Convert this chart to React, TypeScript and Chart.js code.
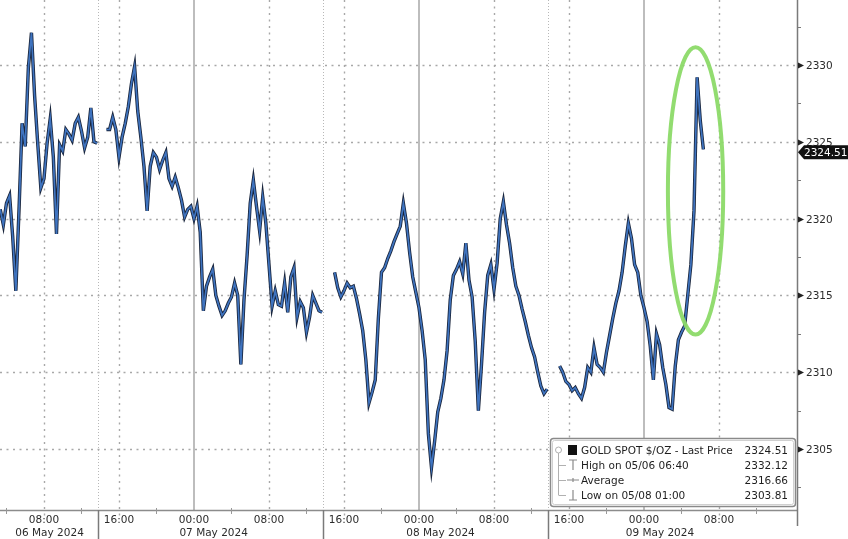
import React, { useEffect, useRef } from "react";
import { Chart, registerables } from "chart.js";
Chart.register(...registerables);

// ---- data (time in hours since 06 May 2024 00:00, prices in $/oz) ----
const INTERVAL_HOURS = 20 / 60;
const SESSION_START_HOURS = [3 + 20 / 60, 14 + 40 / 60, 39, 63];

const sessionA = [
  2320.6, 2319.6, 2321.0, 2321.5, 2318.8, 2315.3, 2320.5, 2326.2, 2324.7, 2329.8,
  2332.1, 2328.0, 2324.9, 2322.0, 2322.6, 2324.9, 2326.5, 2324.0, 2319.0, 2324.8,
  2324.4, 2325.8, 2325.5, 2325.1, 2326.2, 2326.6, 2325.7, 2324.6, 2325.3, 2327.2,
  2325.0, 2324.9,
];
const sessionB = [
  2325.8, 2325.8, 2326.6, 2325.8, 2324.0, 2325.3, 2326.2, 2327.3, 2328.8, 2329.9,
  2327.0, 2325.3, 2323.4, 2320.5, 2323.4, 2324.3, 2324.0, 2323.2, 2323.8, 2324.3,
  2322.6, 2322.1, 2322.7, 2322.0, 2321.2, 2320.1, 2320.6, 2320.8, 2320.0, 2320.8,
  2319.1, 2314.0, 2315.6, 2316.2, 2316.7, 2315.0, 2314.3, 2313.7, 2314.0, 2314.5,
  2314.9, 2315.8, 2315.0, 2310.5, 2314.7, 2317.6, 2321.0, 2322.5, 2320.8, 2319.2,
  2321.4, 2319.7, 2317.0, 2314.3, 2315.3, 2314.4, 2314.3, 2315.8, 2313.9, 2316.2,
  2316.8, 2313.6, 2314.6, 2314.2, 2312.6, 2313.6, 2315.0, 2314.5, 2314.0, 2313.9,
];
const sessionC = [
  2316.5, 2315.5, 2314.9, 2315.3, 2315.8, 2315.5, 2315.6, 2314.8, 2313.8, 2312.7,
  2310.8, 2308.0, 2308.7, 2309.5, 2313.5, 2316.5, 2316.8, 2317.4, 2317.9, 2318.5,
  2319.0, 2319.5, 2321.0, 2319.7, 2317.8, 2316.2, 2315.2, 2314.2, 2312.7, 2310.8,
  2306.0, 2303.8, 2305.5, 2307.4, 2308.3, 2309.5, 2311.4, 2314.7, 2316.3, 2316.7,
  2317.2, 2316.4, 2318.4, 2316.0, 2314.9, 2312.0, 2307.5, 2310.5, 2313.9, 2316.3,
  2317.0, 2315.4, 2317.1, 2320.0, 2321.1, 2319.6, 2318.4, 2316.8, 2315.6, 2315.0,
  2314.1, 2313.3, 2312.4, 2311.6, 2311.0, 2310.0, 2309.1, 2308.6, 2308.9,
];
const sessionD = [
  2310.4, 2310.0, 2309.4, 2309.2, 2308.8, 2309.0, 2308.6, 2308.3, 2309.0, 2310.3,
  2310.0, 2311.6, 2310.5, 2310.3, 2310.0, 2311.3, 2312.4, 2313.5, 2314.5, 2315.3,
  2316.5, 2318.2, 2319.7, 2318.7, 2317.0, 2316.5, 2315.0, 2314.2, 2313.3, 2311.7,
  2309.5, 2312.5, 2311.8, 2310.3, 2309.2, 2307.7, 2307.6, 2310.4, 2312.1, 2312.6,
  2313.0, 2315.0, 2317.0, 2320.5, 2329.2, 2326.4, 2324.51,
];
const SESSIONS = [sessionA, sessionB, sessionC, sessionD];

const X_MIN = 3.31;
const X_MAX = 88.32;
const Y_MIN = 2301.03;
const Y_MAX = 2334.23;

const Y_TICKS = [2305, 2310, 2315, 2320, 2325, 2330];
const Y_MINOR_TICKS = [2302.5, 2307.5, 2312.5, 2317.5, 2322.5, 2327.5, 2332.5];

const TIME_TICK_HOURS = [8, 16, 24, 32, 40, 48, 56, 64, 72, 80];
const TIME_TICK_LABELS = ["08:00", "16:00", "00:00", "08:00", "16:00", "00:00", "08:00", "16:00", "00:00", "08:00"];
const DAY_START_HOURS = [24, 48, 72];
const MINOR_TIME_HOURS = [4, 12, 20, 28, 36, 44, 52, 60, 68, 76, 84];
const SESSION_BREAK_HOURS = [13.75, 37.75, 61.75];
const DATE_LABELS = ["06 May 2024", "07 May 2024", "08 May 2024", "09 May 2024"];
const DATE_LABEL_HOURS = [8.6, 26.1, 50.3, 73.7];

const LAST_PRICE = 2324.51;
const LEGEND_LABELS = ["GOLD SPOT $/OZ - Last Price", "High on 05/06 06:40", "Average", "Low on 05/08 01:00"];
const LEGEND_VALUES = ["2324.51", "2332.12", "2316.66", "2303.81"];

const HIGHLIGHT_HOUR = 77.5;
const HIGHLIGHT_PRICE = 2321.8;
const HIGHLIGHT_HALF_HOURS = 2.95;
const HIGHLIGHT_HALF_PRICE = 9.35;

const FONT = '10.5px "DejaVu Sans", sans-serif';
const TEXT = "#2b2b2b";

function buildPoints() {
  const pts: { x: number; y: number | null }[] = [];
  SESSIONS.forEach((vals, s) => {
    if (s > 0) pts.push({ x: SESSION_START_HOURS[s] - 0.15, y: null });
    vals.forEach((v, i) => pts.push({ x: SESSION_START_HOURS[s] + i * INTERVAL_HOURS, y: v }));
  });
  return pts;
}

const decorPlugin = {
  id: "decor",
  beforeDatasetsDraw(chart: any) {
    const { ctx, chartArea: a, scales } = chart;
    const xs = scales.x, ys = scales.y;
    ctx.save();
    ctx.strokeStyle = "#a8a8a8";
    ctx.lineWidth = 1.4;
    ctx.setLineDash([2, 4.5]);
    Y_TICKS.forEach((v) => {
      const y = Math.round(ys.getPixelForValue(v)) + 0.5;
      ctx.beginPath(); ctx.moveTo(a.left, y); ctx.lineTo(a.right, y); ctx.stroke();
    });
    TIME_TICK_HOURS.forEach((h) => {
      if (DAY_START_HOURS.includes(h)) return;
      const x = Math.round(xs.getPixelForValue(h)) + 0.5;
      ctx.beginPath(); ctx.moveTo(x, a.top); ctx.lineTo(x, a.bottom + 6); ctx.stroke();
    });
    ctx.strokeStyle = "#b8b8b8";
    ctx.lineWidth = 1;
    ctx.setLineDash([1, 2]);
    SESSION_BREAK_HOURS.forEach((h) => {
      const x = Math.round(xs.getPixelForValue(h)) + 0.5;
      ctx.beginPath(); ctx.moveTo(x, a.top); ctx.lineTo(x, a.bottom); ctx.stroke();
    });
    ctx.setLineDash([]);
    ctx.strokeStyle = "#bdbdbd";
    ctx.lineWidth = 2;
    DAY_START_HOURS.forEach((h) => {
      const x = Math.round(xs.getPixelForValue(h));
      ctx.beginPath(); ctx.moveTo(x, a.top); ctx.lineTo(x, a.bottom); ctx.stroke();
    });
    ctx.restore();
  },
  afterDatasetsDraw(chart: any) {
    const { ctx, scales } = chart;
    const xs = scales.x, ys = scales.y;
    ctx.save();
    const cx = xs.getPixelForValue(HIGHLIGHT_HOUR);
    const cy = ys.getPixelForValue(HIGHLIGHT_PRICE);
    const rx = Math.abs(xs.getPixelForValue(HIGHLIGHT_HOUR + HIGHLIGHT_HALF_HOURS) - cx);
    const ry = Math.abs(ys.getPixelForValue(HIGHLIGHT_PRICE + HIGHLIGHT_HALF_PRICE) - cy);
    ctx.strokeStyle = "rgba(140, 218, 104, 0.95)";
    ctx.lineWidth = 4;
    ctx.beginPath();
    ctx.ellipse(cx, cy, rx, ry, 0, 0, Math.PI * 2);
    ctx.stroke();
    ctx.restore();
  },
  afterDraw(chart: any) {
    const { ctx, chartArea: a, scales, width, height } = chart;
    const xs = scales.x, ys = scales.y;
    ctx.save();
    ctx.strokeStyle = "#8c8c8c";
    ctx.lineWidth = 1.5;
    ctx.beginPath(); ctx.moveTo(0, a.bottom + 0.5); ctx.lineTo(a.right, a.bottom + 0.5); ctx.stroke();
    ctx.lineWidth = 1;
    ctx.strokeStyle = "#999";
    MINOR_TIME_HOURS.forEach((h) => {
      const x = Math.round(xs.getPixelForValue(h)) + 0.5;
      if (x > a.right - 2) return;
      ctx.beginPath(); ctx.moveTo(x, a.bottom - 2); ctx.lineTo(x, a.bottom + 4); ctx.stroke();
    });
    ctx.strokeStyle = "#7a7a7a";
    ctx.lineWidth = 1.5;
    SESSION_BREAK_HOURS.forEach((h) => {
      const x = Math.round(xs.getPixelForValue(h)) + 0.5;
      ctx.beginPath(); ctx.moveTo(x, a.bottom); ctx.lineTo(x, height); ctx.stroke();
    });
    ctx.fillStyle = TEXT;
    ctx.font = FONT;
    ctx.textAlign = "center";
    ctx.textBaseline = "middle";
    TIME_TICK_HOURS.forEach((h, i) => {
      ctx.fillText(TIME_TICK_LABELS[i], xs.getPixelForValue(h), a.bottom + 10);
    });
    DATE_LABELS.forEach((t, i) => {
      ctx.fillText(t, xs.getPixelForValue(DATE_LABEL_HOURS[i]), a.bottom + 23);
    });
    ctx.strokeStyle = "#7a7a7a";
    ctx.lineWidth = 1.5;
    ctx.beginPath(); ctx.moveTo(a.right + 0.5, 0); ctx.lineTo(a.right + 0.5, a.bottom + 16); ctx.stroke();
    ctx.lineWidth = 1;
    Y_MINOR_TICKS.forEach((v) => {
      const y = Math.round(ys.getPixelForValue(v)) + 0.5;
      ctx.beginPath(); ctx.moveTo(a.right, y); ctx.lineTo(a.right + 4, y); ctx.stroke();
    });
    ctx.textAlign = "left";
    Y_TICKS.forEach((v) => {
      const y = Math.round(ys.getPixelForValue(v)) + 0.5;
      ctx.fillStyle = "#222";
      ctx.beginPath();
      ctx.moveTo(a.right + 1, y - 3); ctx.lineTo(a.right + 7, y); ctx.lineTo(a.right + 1, y + 3);
      ctx.closePath(); ctx.fill();
      ctx.fillStyle = TEXT;
      ctx.fillText(String(v), a.right + 9, y + 1);
    });
    // last price tag
    const py = ys.getPixelForValue(LAST_PRICE) + 3;
    ctx.fillStyle = "#111";
    ctx.beginPath();
    ctx.moveTo(a.right + 1, py);
    ctx.lineTo(a.right + 7, py - 7);
    ctx.lineTo(width, py - 7);
    ctx.lineTo(width, py + 7);
    ctx.lineTo(a.right + 7, py + 7);
    ctx.closePath();
    ctx.fill();
    ctx.fillStyle = "#fff";
    ctx.fillText(LEGEND_VALUES[0], a.right + 7, py + 1);

    // legend box
    const bx = 550, by = 438, bw = 245, bh = 68;
    ctx.fillStyle = "#fff";
    ctx.strokeStyle = "#8a8a8a";
    ctx.lineWidth = 1.5;
    ctx.beginPath();
    ctx.roundRect(bx + 0.5, by + 0.5, bw, bh, 3);
    ctx.fill(); ctx.stroke();
    ctx.strokeStyle = "#d0d0d0";
    ctx.lineWidth = 1;
    ctx.beginPath();
    ctx.roundRect(bx + 2.5, by + 2.5, bw - 4, bh - 4, 2);
    ctx.stroke();
    const rows = [450, 465, 480, 495];
    ctx.strokeStyle = "#b0b0b0";
    ctx.lineWidth = 1;
    ctx.beginPath(); ctx.moveTo(558.5, rows[0] + 3); ctx.lineTo(558.5, rows[3]); ctx.stroke();
    ctx.beginPath(); ctx.arc(558.5, rows[0], 3, 0, Math.PI * 2); ctx.stroke();
    for (let i = 1; i < 4; i++) {
      ctx.beginPath(); ctx.moveTo(558.5, rows[i] + 0.5); ctx.lineTo(566, rows[i] + 0.5); ctx.stroke();
    }
    ctx.fillStyle = "#111";
    ctx.fillRect(568, rows[0] - 5, 9, 10);
    ctx.strokeStyle = "#8a8a8a";
    ctx.lineWidth = 1.2;
    ctx.beginPath(); ctx.moveTo(569, rows[1] - 5); ctx.lineTo(577, rows[1] - 5);
    ctx.moveTo(573, rows[1] - 5); ctx.lineTo(573, rows[1] + 5); ctx.stroke();
    ctx.beginPath(); ctx.moveTo(567, rows[2]); ctx.lineTo(579, rows[2]);
    ctx.moveTo(573, rows[2] - 2); ctx.lineTo(573, rows[2] + 2); ctx.stroke();
    ctx.beginPath(); ctx.moveTo(573, rows[3] - 5); ctx.lineTo(573, rows[3] + 5);
    ctx.moveTo(569, rows[3] + 5); ctx.lineTo(577, rows[3] + 5); ctx.stroke();
    ctx.fillStyle = "#1e1e1e";
    ctx.font = FONT;
    rows.forEach((ry, i) => {
      ctx.textAlign = "left";
      ctx.fillText(LEGEND_LABELS[i], 581, ry + 1);
      ctx.textAlign = "right";
      ctx.fillText(LEGEND_VALUES[i], 788, ry + 1);
    });
    ctx.restore();
  },
};

export default function App() {
  const ref = useRef<HTMLCanvasElement | null>(null);
  useEffect(() => {
    if (!ref.current) return;
    const pts = buildPoints();
    const chart = new Chart(ref.current, {
      type: "line",
      data: {
        datasets: [
          {
            data: pts as any,
            borderColor: "#3f74c0",
            borderWidth: 1.7,
            pointRadius: 0,
            tension: 0,
            spanGaps: false,
            order: 1,
          },
          {
            data: pts as any,
            borderColor: "#19253c",
            borderWidth: 3.4,
            pointRadius: 0,
            tension: 0,
            spanGaps: false,
            order: 2,
          },
        ],
      },
      options: {
        responsive: false,
        animation: false,
        events: [],
        layout: { padding: { left: 0, top: 0, right: 51, bottom: 29 } },
        plugins: { legend: { display: false }, tooltip: { enabled: false } },
        scales: {
          x: { type: "linear", min: X_MIN, max: X_MAX, display: false },
          y: { type: "linear", min: Y_MIN, max: Y_MAX, display: false },
        },
      },
      plugins: [decorPlugin],
    });
    return () => chart.destroy();
  }, []);
  return (
    <div style={{ position: "fixed", left: 0, top: 0, width: 848, height: 539, background: "#fff" }}>
      <canvas ref={ref} width={848} height={539} style={{ display: "block" }} />
    </div>
  );
}
